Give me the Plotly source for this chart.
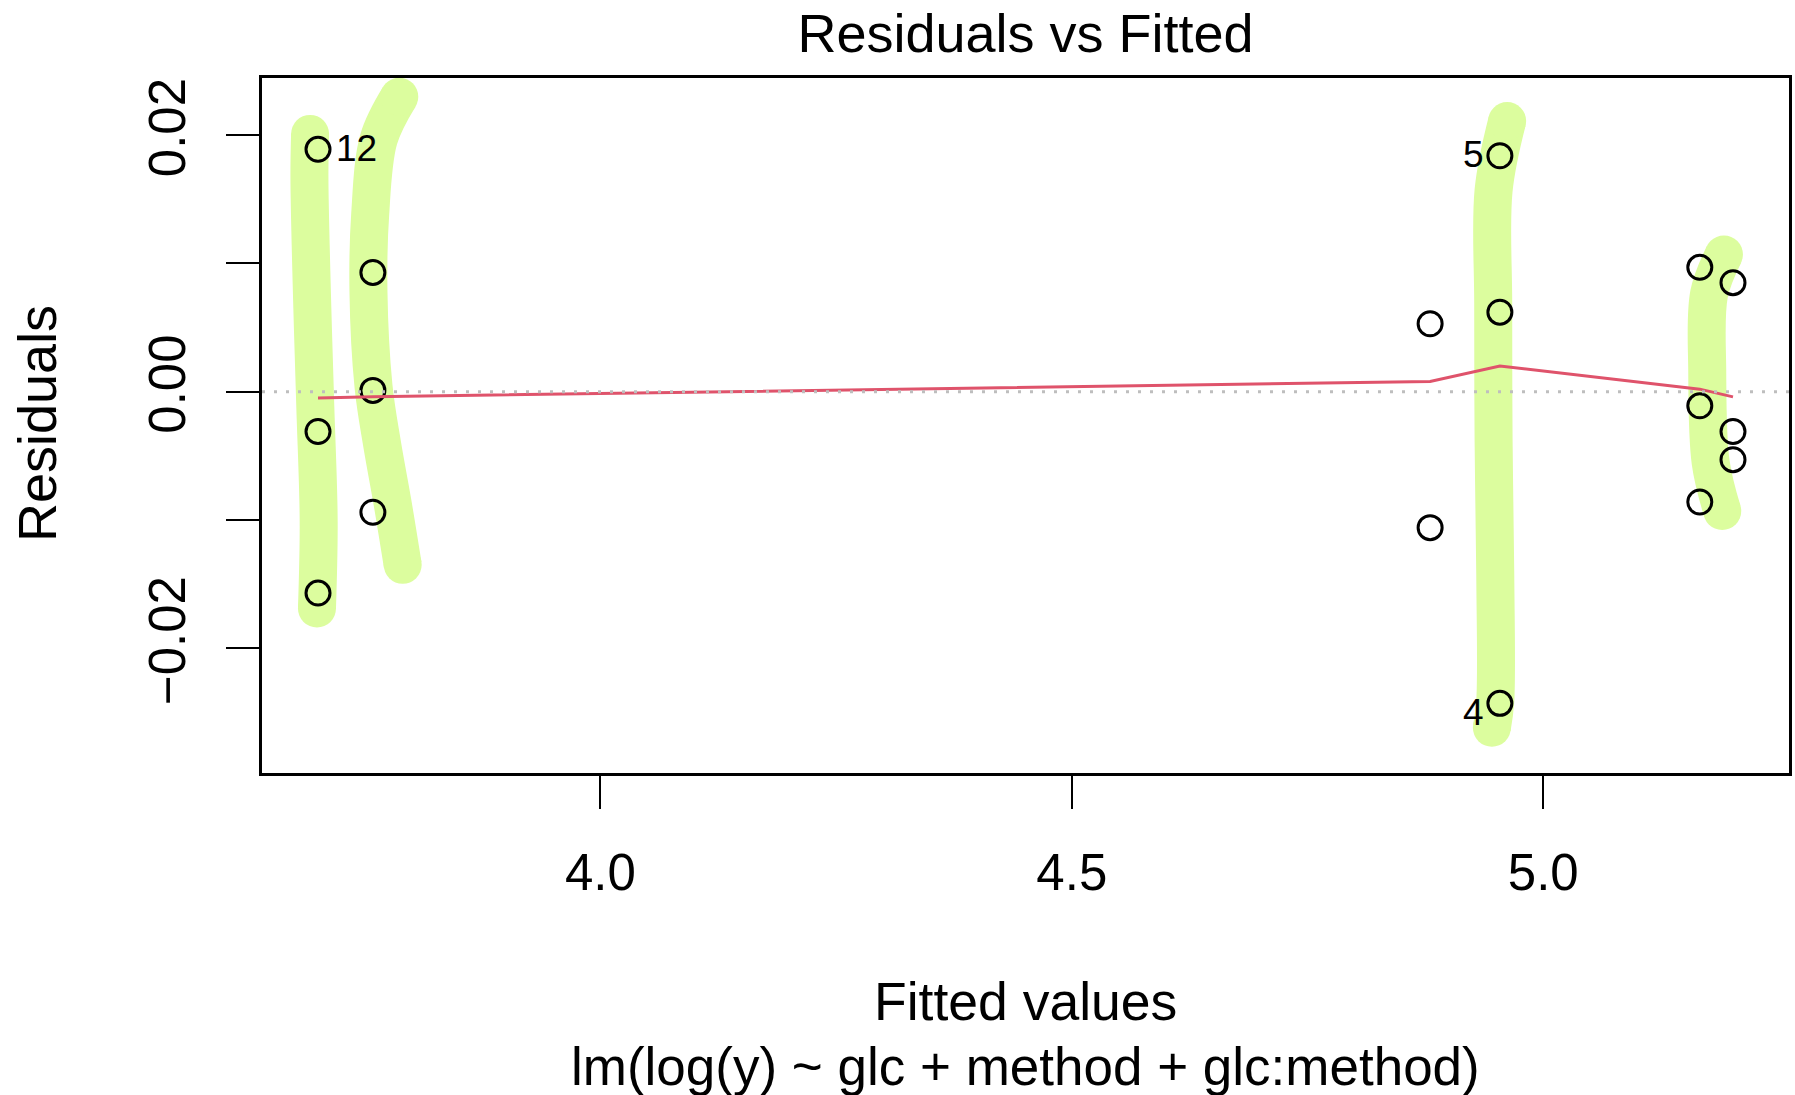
import plotly.graph_objects as go

# ---- data ----
fitted = [3.7006, 3.7006, 3.7006, 3.7588, 3.7588, 3.7588, 4.880, 4.880,
          4.954, 4.954, 4.954, 5.166, 5.166, 5.166, 5.2012, 5.2012, 5.2012]
residuals = [0.0189, -0.0031, -0.0157, 0.0093, 0.0001, -0.0094, 0.0053, -0.0106,
             0.0184, 0.0062, -0.0243, 0.0097, -0.0011, -0.0086, 0.0085, -0.0031, -0.0053]
point_ids = ["12", "", "", "", "", "", "", "", "5", "", "4", "", "", "", "", "", ""]

smooth_x = [3.7006, 3.7588, 4.880, 4.954, 5.166, 5.2012]
smooth_y = [-0.0005, -0.0004, 0.0008, 0.0020, 0.0002, -0.0004]

# hand-drawn highlighter strokes
stroke1_x = [3.6922, 3.6915, 3.6941, 3.6977, 3.7013, 3.6995]
stroke1_y = [0.0201, 0.0167, 0.0078, -0.0011, -0.0101, -0.0169]
stroke2_x = [3.7868, 3.7650, 3.7559, 3.7541, 3.7595, 3.7686, 3.7795, 3.7904]
stroke2_y = [0.0230, 0.0197, 0.0138, 0.0078, 0.0004, -0.0041, -0.0086, -0.0135]
stroke3_x = [4.9617, 4.9473, 4.9469, 4.9473, 4.9491, 4.9491, 4.9455]
stroke3_y = [0.0211, 0.0157, 0.0069, -0.0037, -0.0143, -0.0241, -0.0262]
stroke4_x = [5.1916, 5.1758, 5.1739, 5.1775, 5.1898]
stroke4_y = [0.0107, 0.0076, 0.0016, -0.0055, -0.0093]

x_ticks = [4.0, 4.5, 5.0]
x_tick_text = ["4.0", "4.5", "5.0"]
y_ticks = [-0.02, -0.01, 0.0, 0.01, 0.02]
y_tick_text = ["\u22120.02", "", "0.00", "", "0.02"]

title = "Residuals vs Fitted"
x_label = "Fitted values"
sub_label = "lm(log(y) ~ glc + method + glc:method)"
y_label = "Residuals"

FONT = "Liberation Sans, Arial, Helvetica, sans-serif"
GREEN = "#dcfd9e"
STROKE_W = 38

W, H = 1795, 1095
L, R, T, B = 262, 3, 78, 322
PLOT_W = W - L - R
PLOT_H = H - T - B


def paper_y(y_page):
    return (H - B - y_page) / PLOT_H


def paper_x(x_page):
    return (x_page - L) / PLOT_W


fig = go.Figure()

for sx, sy in [(stroke1_x, stroke1_y), (stroke2_x, stroke2_y),
               (stroke3_x, stroke3_y), (stroke4_x, stroke4_y)]:
    fig.add_trace(go.Scatter(x=sx, y=sy, mode="lines",
                             line=dict(color=GREEN, width=STROKE_W, shape="spline"),
                             hoverinfo="skip", showlegend=False))
    fig.add_trace(go.Scatter(x=[sx[0], sx[-1]], y=[sy[0], sy[-1]], mode="markers",
                             marker=dict(color=GREEN, size=STROKE_W, line=dict(width=0)),
                             hoverinfo="skip", showlegend=False))

fig.add_trace(go.Scatter(x=fitted, y=residuals, mode="markers",
                         marker=dict(symbol="circle-open", size=24, color="black",
                                     line=dict(width=3, color="black")),
                         showlegend=False))

fig.add_trace(go.Scatter(x=smooth_x, y=smooth_y, mode="lines",
                         line=dict(color="#DF536B", width=3),
                         showlegend=False))

# zero reference line (dotted grey)
fig.add_shape(type="line", xref="paper", yref="y", x0=0, x1=1, y0=0, y1=0,
              line=dict(color="#bebebe", width=3, dash="3px,9px"), layer="above")

# point labels
for xv, yv, lab in zip(fitted, residuals, point_ids):
    if not lab:
        continue
    left_side = xv < 4.5
    fig.add_annotation(x=xv, y=yv, text=lab, showarrow=False,
                       xanchor="left" if left_side else "right",
                       xshift=16 if left_side else -14,
                       yshift=(-9 if yv < 0 else 1),
                       font=dict(family=FONT, size=37, color="black"))

# axis / caption texts
fig.add_annotation(x=0.5, y=paper_y(1001.7), xref="paper", yref="paper",
                   text=x_label, showarrow=False, yanchor="middle",
                   font=dict(family=FONT, size=53.5, color="black"))
fig.add_annotation(x=0.5, y=paper_y(1066), xref="paper", yref="paper",
                   text=sub_label, showarrow=False, yanchor="middle",
                   font=dict(family=FONT, size=53, color="black"))
fig.add_annotation(x=paper_x(36), y=paper_y(423.6), xref="paper", yref="paper",
                   text=y_label, showarrow=False, textangle=-90,
                   xanchor="center", yanchor="middle",
                   font=dict(family=FONT, size=54, color="black"))

fig.update_layout(
    width=W, height=H,
    margin=dict(l=L, r=R, t=T, b=B),
    paper_bgcolor="white", plot_bgcolor="white",
    title=dict(text=title, x=0.5, xref="paper", y=1 - 33 / H, yanchor="middle",
               xanchor="center", font=dict(family=FONT, size=54, color="black")),
    xaxis=dict(range=[3.6412, 5.2606], tickvals=x_ticks, ticktext=x_tick_text,
               showgrid=False, zeroline=False, showline=True, mirror=True,
               linecolor="black", linewidth=2.5, ticks="outside", ticklen=33,
               tickwidth=2, tickcolor="black", ticklabelstandoff=20,
               tickfont=dict(family=FONT, size=51, color="black")),
    yaxis=dict(range=[-0.02973, 0.02446], tickvals=y_ticks, ticktext=y_tick_text,
               showgrid=False, zeroline=False, showline=True, mirror=True,
               linecolor="black", linewidth=2.5, ticks="outside", ticklen=33,
               tickwidth=2, tickcolor="black", tickangle=-90, ticklabelstandoff=21,
               tickfont=dict(family=FONT, size=51, color="black")),
)

# remove the page's default body margin so the figure fills the window exactly
fig.write_html("out.html",
               config={"displayModeBar": False},
               post_script="document.body.style.margin='0';"
                           "document.body.style.overflow='hidden';")
